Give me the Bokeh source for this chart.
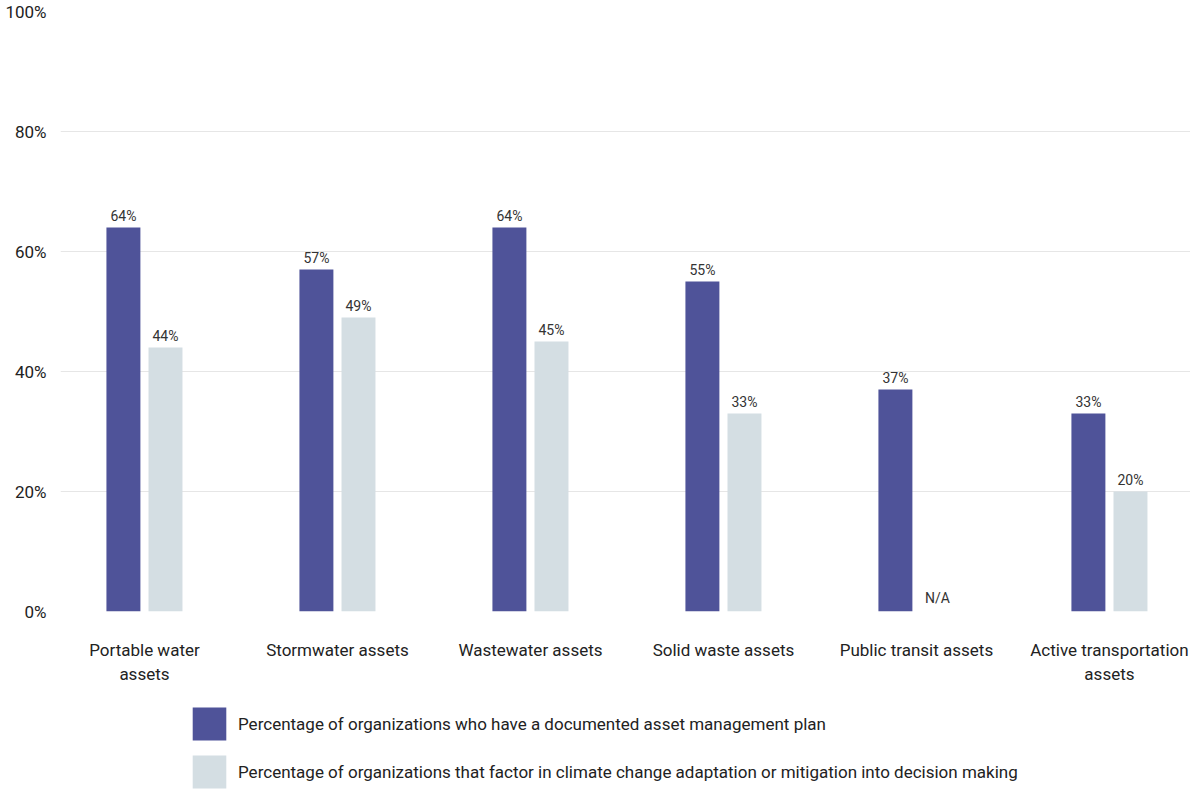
from bokeh.plotting import figure
from bokeh.models import ColumnDataSource, Range1d, FixedTicker, Legend, LegendItem, LabelSet
from bokeh.layouts import column
from bokeh.embed import file_html
from bokeh.resources import INLINE
from bokeh.core.properties import value

categories = ["Portable water\nassets", "Stormwater assets", "Wastewater assets",
              "Solid waste assets", "Public transit assets", "Active transportation\nassets"]
plan_values = [64, 57, 64, 55, 37, 33]
climate_values = [44, 49, 45, 33, None, 20]
series_names = ["Percentage of organizations who have a documented asset management plan",
                "Percentage of organizations that factor in climate change adaptation or mitigation into decision making"]
y_ticks = [0, 20, 40, 60, 80, 100]

FONT = "Roboto"
DARK = "#4f5399"
LIGHT = "#d4dee3"

n = len(categories)
xs = list(range(n))
off = 0.109
bw = 0.176

plan_src = ColumnDataSource(dict(x=[i - off for i in xs], top=plan_values,
                                 lab=[f"{v}%" for v in plan_values]))
cx, ct, cl = [], [], []
na_x = []
for i, v in zip(xs, climate_values):
    if v is None:
        na_x.append(i + off)
    else:
        cx.append(i + off); ct.append(v); cl.append(f"{v}%")
clim_src = ColumnDataSource(dict(x=cx, top=ct, lab=cl))
na_src = ColumnDataSource(dict(x=na_x, y=[0] * len(na_x), lab=["N/A"] * len(na_x)))

p = figure(width=1190, height=690, output_backend="svg", toolbar_location=None,
           x_range=Range1d(-0.435, 5.42), y_range=Range1d(0, 100),
           min_border_left=60, min_border_right=0, min_border_top=11, min_border_bottom=79)
p.outline_line_color = None
p.background_fill_color = "white"

r1 = p.vbar(x="x", top="top", width=bw, source=plan_src, fill_color=DARK, line_color=None)
r2 = p.vbar(x="x", top="top", width=bw, source=clim_src, fill_color=LIGHT, line_color=None)

for src in (plan_src, clim_src):
    p.add_layout(LabelSet(x="x", y="top", text="lab", source=src, y_offset=4,
                          text_align="center", text_baseline="bottom",
                          text_font=value(FONT), text_font_size="14px", text_color="#333333"))
p.add_layout(LabelSet(x="x", y="y", text="lab", source=na_src, y_offset=6,
                      text_align="center", text_baseline="bottom",
                      text_font=value(FONT), text_font_size="14px", text_color="#333333"))

p.xaxis.ticker = FixedTicker(ticks=xs)
p.xaxis.major_label_overrides = {i: c for i, c in zip(xs, categories)}
p.xaxis.major_label_text_font = FONT
p.xaxis.major_label_text_font_size = "17px"
p.xaxis.major_label_text_color = "#222222"
p.xaxis.major_label_standoff = 22
p.xaxis.major_tick_line_color = None
p.xaxis.minor_tick_line_color = None
p.xaxis.axis_line_color = None
p.xgrid.grid_line_color = None

p.yaxis.ticker = FixedTicker(ticks=y_ticks)
p.yaxis.major_label_overrides = {t: f"{t}%" for t in y_ticks}
p.yaxis.major_label_text_font = FONT
p.yaxis.major_label_text_font_size = "17px"
p.yaxis.major_label_text_color = "#222222"
p.yaxis.major_label_standoff = 8
p.yaxis.major_tick_line_color = None
p.yaxis.minor_tick_line_color = None
p.yaxis.axis_line_color = None
p.ygrid.grid_line_color = "#e6e6e6"
p.ygrid.ticker = FixedTicker(ticks=y_ticks)

# legend panel
lp = figure(width=1190, height=103, output_backend="svg", toolbar_location=None,
            x_range=Range1d(0, 1), y_range=Range1d(0, 1),
            x_axis_type=None, y_axis_type=None,
            min_border_left=60, min_border_right=0, min_border_top=0, min_border_bottom=0)
lp.outline_line_color = None
lp.xgrid.visible = False
lp.ygrid.visible = False
lr1 = lp.vbar(x=[0], top=[0], width=0.01, fill_color=DARK, line_color=None)
lr2 = lp.vbar(x=[0], top=[0], width=0.01, fill_color=LIGHT, line_color=None)

legend = Legend(items=[LegendItem(label=series_names[0], renderers=[lr1]),
                       LegendItem(label=series_names[1], renderers=[lr2])],
                location=(128, 1), orientation="vertical",
                glyph_width=42, glyph_height=41, spacing=7, padding=0, margin=0,
                label_text_font=FONT, label_text_font_size="17px", label_text_color="#222222",
                label_standoff=8, border_line_color=None, background_fill_alpha=0)
lp.add_layout(legend, "center")

layout = column(p, lp, spacing=0)
open("out.html", "w").write(file_html(layout, INLINE))
